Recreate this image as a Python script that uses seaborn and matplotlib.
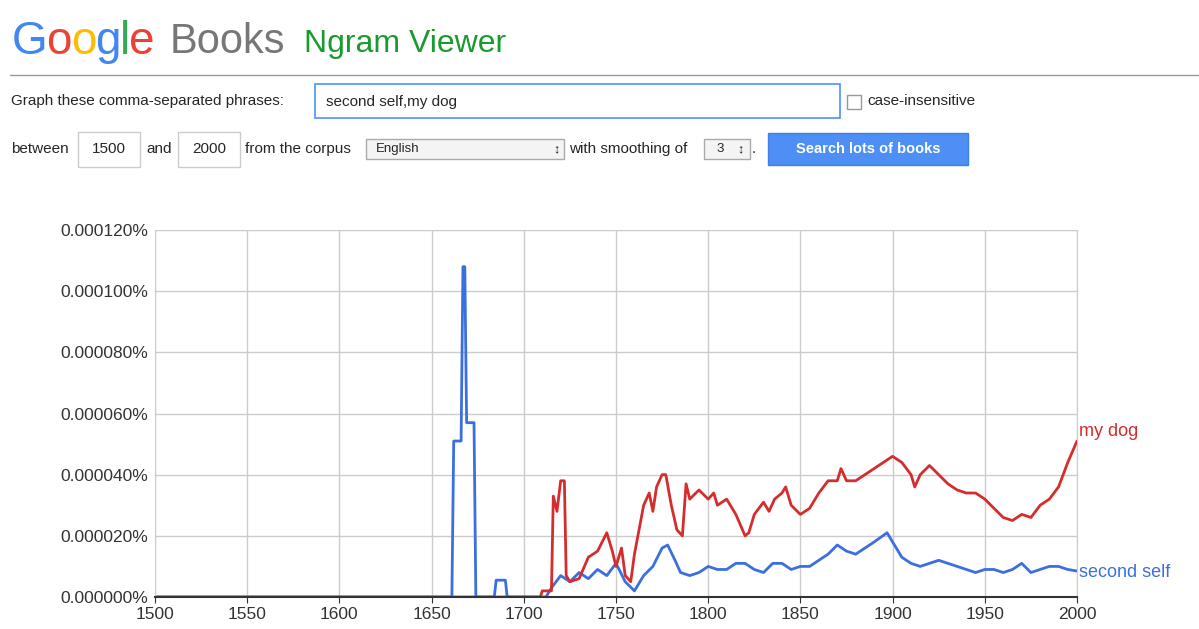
import numpy as np
import pandas as pd
import matplotlib
matplotlib.use('Agg')
import matplotlib.pyplot as plt
from matplotlib.patches import Rectangle
import seaborn as sns

# values in millionths of a percent
self_years = [1500, 1661, 1662, 1666, 1667, 1668, 1669, 1673, 1674, 1684, 1685, 1690, 1691, 1712,
              1715, 1720, 1725, 1730, 1735, 1740, 1745, 1750, 1755, 1760, 1765, 1770, 1775, 1778,
              1782, 1785, 1790, 1795, 1800, 1805, 1810, 1815, 1820, 1825, 1830, 1835, 1840, 1845,
              1850, 1855, 1860, 1865, 1870, 1875, 1880, 1885, 1890, 1897, 1900, 1905, 1910, 1915,
              1920, 1925, 1930, 1935, 1940, 1945, 1950, 1955, 1960, 1965, 1970, 1975, 1980, 1985,
              1990, 1995, 2000]
self_vals = [0, 0, 51, 51, 108, 108, 57, 57, 0, 0, 5.5, 5.5, 0, 0,
             3, 7, 5, 8, 6, 9, 7, 11, 5, 2, 7, 10, 16, 17,
             12, 8, 7, 8, 10, 9, 9, 11, 11, 9, 8, 11, 11, 9,
             10, 10, 12, 14, 17, 15, 14, 16, 18, 21, 18, 13, 11, 10,
             11, 12, 11, 10, 9, 8, 9, 9, 8, 9, 11, 8, 9, 10,
             10, 9, 8.5]

dog_years = [1500, 1709, 1710, 1715, 1716, 1718, 1720, 1722, 1723, 1725, 1730, 1735, 1740, 1745,
             1748, 1750, 1753, 1755, 1758, 1760, 1765, 1768, 1770, 1772, 1775, 1777, 1780, 1783,
             1786, 1788, 1790, 1795, 1800, 1803, 1805, 1810, 1815, 1820, 1822, 1825, 1830, 1833,
             1836, 1840, 1842, 1845, 1850, 1855, 1860, 1865, 1870, 1872, 1875, 1880, 1885, 1890,
             1895, 1900, 1905, 1910, 1912, 1915, 1920, 1925, 1930, 1935, 1940, 1945, 1950, 1955,
             1960, 1965, 1970, 1975, 1980, 1985, 1990, 1995, 2000]
dog_vals = [0, 0, 2, 2, 33, 28, 38, 38, 7, 5, 6, 13, 15, 21,
            15, 10, 16, 7, 5, 14, 30, 34, 28, 36, 40, 40, 30, 22,
            20, 37, 32, 35, 32, 34, 30, 32, 27, 20, 21, 27, 31, 28,
            32, 34, 36, 30, 27, 29, 34, 38, 38, 42, 38, 38, 40, 42,
            44, 46, 44, 40, 36, 40, 43, 40, 37, 35, 34, 34, 32, 29,
            26, 25, 27, 26, 30, 32, 36, 44, 51]

df = pd.concat([
    pd.DataFrame({'year': self_years, 'freq': self_vals, 'phrase': 'second self'}),
    pd.DataFrame({'year': dog_years, 'freq': dog_vals, 'phrase': 'my dog'}),
])
colors = {'second self': '#3b6fe0', 'my dog': '#d42d2d'}

sns.set_style('white')
plt.rcParams['font.family'] = ['Arial', 'Liberation Sans', 'DejaVu Sans']

fig = plt.figure(figsize=(11.99, 6.29), dpi=100)
W, H = 1199, 629

def fx(px):
    return px / W

def fy(py):
    return 1 - py / H

# header: lay out the logo letters one after another using measured widths
renderer = fig.canvas.get_renderer()
logo = [('G', '#4285f4'), ('o', '#ea4335'), ('o', '#fbbc05'), ('g', '#4285f4'), ('l', '#34a853'), ('e', '#ea4335')]
x0 = 12
for ch, c in logo:
    t = fig.text(fx(x0), fy(42), ch, color=c, fontsize=33, va='center')
    x0 += t.get_window_extent(renderer).width - 1
fig.text(fx(170), fy(42), 'Books', color='#777777', fontsize=30, va='center')
fig.text(fx(304), fy(44), 'Ngram Viewer', color='#1a9a2f', fontsize=23, va='center')
fig.add_artist(plt.Line2D([fx(10), fx(1199)], [fy(75), fy(75)], color='#999999', lw=1))

fig.text(fx(11), fy(101), 'Graph these comma-separated phrases:', fontsize=11, va='center')
fig.add_artist(Rectangle((fx(315), fy(118)), fx(525), 34 / H, fill=False, ec='#4d90fe', lw=1.2))
fig.text(fx(326), fy(102), 'second self,my dog', fontsize=11, va='center')
fig.add_artist(Rectangle((fx(847), fy(109)), fx(14), 14 / H, fill=False, ec='#999999', lw=1))
fig.text(fx(867), fy(101), 'case-insensitive', fontsize=11, va='center')

fig.text(fx(11), fy(149), 'between', fontsize=11, va='center')
fig.add_artist(Rectangle((fx(78), fy(167)), fx(62), 35 / H, fill=False, ec='#cccccc', lw=1))
fig.text(fx(109), fy(149), '1500', fontsize=11, va='center', ha='center')
fig.text(fx(146), fy(149), 'and', fontsize=11, va='center')
fig.add_artist(Rectangle((fx(178), fy(167)), fx(62), 35 / H, fill=False, ec='#cccccc', lw=1))
fig.text(fx(209), fy(149), '2000', fontsize=11, va='center', ha='center')
fig.text(fx(245), fy(149), 'from the corpus', fontsize=11, va='center')
fig.add_artist(Rectangle((fx(366), fy(159)), fx(198), 20 / H, fc='#f4f4f4', ec='#aaaaaa', lw=1))
fig.text(fx(376), fy(149), 'English', fontsize=9.5, va='center')
fig.text(fx(556), fy(149), '\u2195', fontsize=9, va='center', ha='center')
fig.text(fx(569), fy(149), 'with smoothing of', fontsize=11, va='center')
fig.add_artist(Rectangle((fx(704), fy(159)), fx(46), 20 / H, fc='#f4f4f4', ec='#aaaaaa', lw=1))
fig.text(fx(716), fy(149), '3', fontsize=9.5, va='center')
fig.text(fx(740), fy(149), '\u2195', fontsize=9, va='center', ha='center')
fig.text(fx(752), fy(149), '.', fontsize=11, va='center')
fig.add_artist(Rectangle((fx(768), fy(165)), fx(200), 32 / H, fc='#4d8ff4', ec='#3f7fe8', lw=1))
fig.text(fx(868), fy(149), 'Search lots of books', fontsize=10.5, va='center', ha='center',
         color='white', fontweight='bold')

# chart
ax = fig.add_axes([fx(155), fy(597), fx(1077 - 155), (597 - 230) / H])
sns.lineplot(data=df, x='year', y='freq', hue='phrase', palette=colors, lw=2,
             legend=False, ax=ax)
ax.set_xlim(1500, 2000)
ax.set_ylim(0, 120)
ax.set_xticks(range(1500, 2001, 50))
ax.set_yticks(range(0, 121, 20))
ax.set_yticklabels([f'{v / 1e6:.6f}%' for v in range(0, 121, 20)])
ax.set_xlabel('')
ax.set_ylabel('')
ax.grid(True, color='#cccccc', lw=1)
ax.tick_params(labelsize=12.5, colors='#333333', length=4, left=True, bottom=True)
ax.tick_params(axis='y', length=0, pad=5)
for s in ['top', 'right']:
    ax.spines[s].set_color('#cccccc')
ax.spines['left'].set_color('#cccccc')
ax.spines['bottom'].set_color('#333333')
ax.spines['bottom'].set_linewidth(1.5)
ax.text(2001, dog_vals[-1] + 3, 'my dog', color=colors['my dog'], fontsize=13, va='center',
        clip_on=False)
ax.text(2001, self_vals[-1] - 0.5, 'second self', color=colors['second self'], fontsize=13,
        va='center', clip_on=False)

fig.savefig('out.png', dpi=100)
